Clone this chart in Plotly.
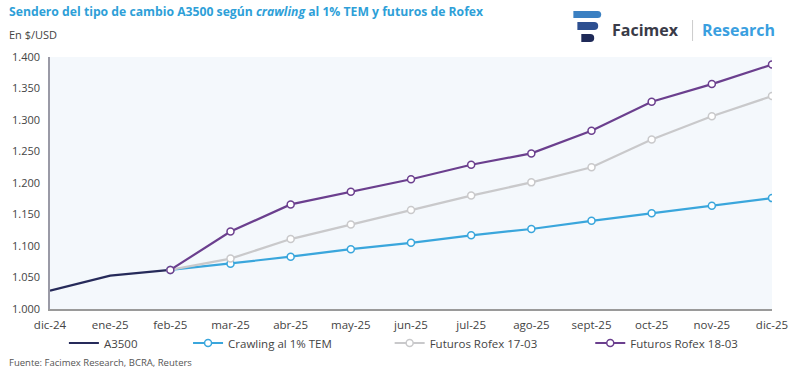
import plotly.graph_objects as go

categories = ["dic-24", "ene-25", "feb-25", "mar-25", "abr-25", "may-25", "jun-25",
              "jul-25", "ago-25", "sept-25", "oct-25", "nov-25", "dic-25"]
a3500 = [1029, 1053, 1062]
crawling = [1062, 1072, 1083, 1095, 1105, 1117, 1127, 1140, 1152, 1164, 1176]
rofex_1703 = [1062, 1080, 1111, 1134, 1157, 1180, 1201, 1225, 1269, 1306, 1338]
rofex_1803 = [1062, 1123, 1166, 1186, 1206, 1229, 1247, 1283, 1329, 1357, 1388]
y_ticks = [1000, 1050, 1100, 1150, 1200, 1250, 1300, 1350, 1400]

W, H = 800, 372
L, R, T, B = 48, 25, 57, 63
PW, PH = W - L - R, H - T - B

def px(x):
    return (x - L) / PW

def py(y):
    return (H - B - y) / PH

FONT = "Open Sans"
proj_x = categories[2:]

fig = go.Figure()
fig.add_trace(go.Scatter(x=categories[:3], y=a3500, mode="lines", name="A3500",
                         line=dict(color="#262a5a", width=2.2), legend="legend"))
fig.add_trace(go.Scatter(x=proj_x, y=crawling, mode="lines+markers", name="Crawling al 1% TEM",
                         line=dict(color="#3aa6dc", width=2.2),
                         marker=dict(symbol="circle", size=7, color="white",
                                     line=dict(color="#3aa6dc", width=1.5)), legend="legend2"))
fig.add_trace(go.Scatter(x=proj_x, y=rofex_1703, mode="lines+markers", name="Futuros Rofex 17-03",
                         line=dict(color="#c9c9cb", width=2.2),
                         marker=dict(symbol="circle", size=7, color="white",
                                     line=dict(color="#c9c9cb", width=1.5)), legend="legend3"))
fig.add_trace(go.Scatter(x=proj_x, y=rofex_1803, mode="lines+markers", name="Futuros Rofex 18-03",
                         line=dict(color="#6b3f8e", width=2.2),
                         marker=dict(symbol="circle", size=7, color="white",
                                     line=dict(color="#6b3f8e", width=1.5)), legend="legend4"))

legend_common = dict(orientation="h", yanchor="middle", xanchor="left", y=py(343),
                     font=dict(family=FONT, size=11.5, color="#444"),
                     bgcolor="rgba(0,0,0,0)", itemwidth=30)


def bar(x0, x1, y0, y1, color):
    r = (y1 - y0) / 2
    return dict(type="path",
                path=(f"M {px(x0)},{py(y0)} L {px(x1 - r)},{py(y0)} "
                      f"Q {px(x1)},{py(y0)} {px(x1)},{py((y0 + y1) / 2)} "
                      f"Q {px(x1)},{py(y1)} {px(x1 - r)},{py(y1)} L {px(x0)},{py(y1)} Z"),
                fillcolor=color, line_width=0)


shapes = [
    bar(575, 603, 11, 18, "#3b80c2"),
    bar(579, 600, 22, 30, "#2d4f90"),
    bar(583, 596, 34, 42, "#1f2a58"),
    dict(type="line", x0=px(695), x1=px(695), y0=py(20), y1=py(41), line=dict(color="#cccccc", width=1)),
]
for s in shapes:
    s.update(xref="paper", yref="paper")

annotations = [
    dict(x=px(5), y=py(12), xanchor="left", yanchor="middle",
         text="<b>Sendero del tipo de cambio A3500 según <i>crawling</i> al 1% TEM y futuros de Rofex</b>",
         font=dict(family=FONT, size=12.2, color="#2e9fd8"), showarrow=False),
    dict(x=px(5), y=py(34), xanchor="left", yanchor="middle", text="En $/USD",
         font=dict(family=FONT, size=11, color="#444"), showarrow=False),
    dict(x=px(5), y=py(362), xanchor="left", yanchor="middle",
         text="Fuente: Facimex Research, BCRA, Reuters",
         font=dict(family=FONT, size=9.5, color="#555"), showarrow=False),
    dict(x=px(612), y=py(30), xanchor="left", yanchor="middle", text="<b>Facimex</b>",
         font=dict(family=FONT, size=16, color="#3a3b48"), showarrow=False),
    dict(x=px(703), y=py(30), xanchor="left", yanchor="middle", text="<b>Research</b>",
         font=dict(family=FONT, size=16, color="#3a9fe0"), showarrow=False),
]
for a in annotations:
    a.update(xref="paper", yref="paper")

fig.update_layout(
    width=W, height=H,
    margin=dict(l=L, r=R, t=T, b=B),
    paper_bgcolor="white",
    plot_bgcolor="#f4f8fc",
    separators=",.",
    showlegend=True,
    legend=dict(legend_common, x=px(62)),
    legend2=dict(legend_common, x=px(187)),
    legend3=dict(legend_common, x=px(390)),
    legend4=dict(legend_common, x=px(592)),
    xaxis=dict(type="category", categoryorder="array", categoryarray=categories,
               range=[0, 12], showgrid=False, showline=True, linecolor="#9a9a9a", linewidth=2,
               ticks="", ticklabelstandoff=4,
               tickfont=dict(family=FONT, size=11.5, color="#444"), fixedrange=True),
    yaxis=dict(range=[1000, 1400], tickvals=y_ticks, tickformat=",.0f", showgrid=False,
               showline=True, linecolor="#9a9aa6", linewidth=1.5, ticks="", ticklabelstandoff=6,
               tickfont=dict(family=FONT, size=11, color="#444"), zeroline=False),
    shapes=shapes,
    annotations=annotations,
)

fig.write_html("out.html", config={"displayModeBar": False},
               post_script="document.body.style.margin='0';document.body.style.overflow='hidden';")
